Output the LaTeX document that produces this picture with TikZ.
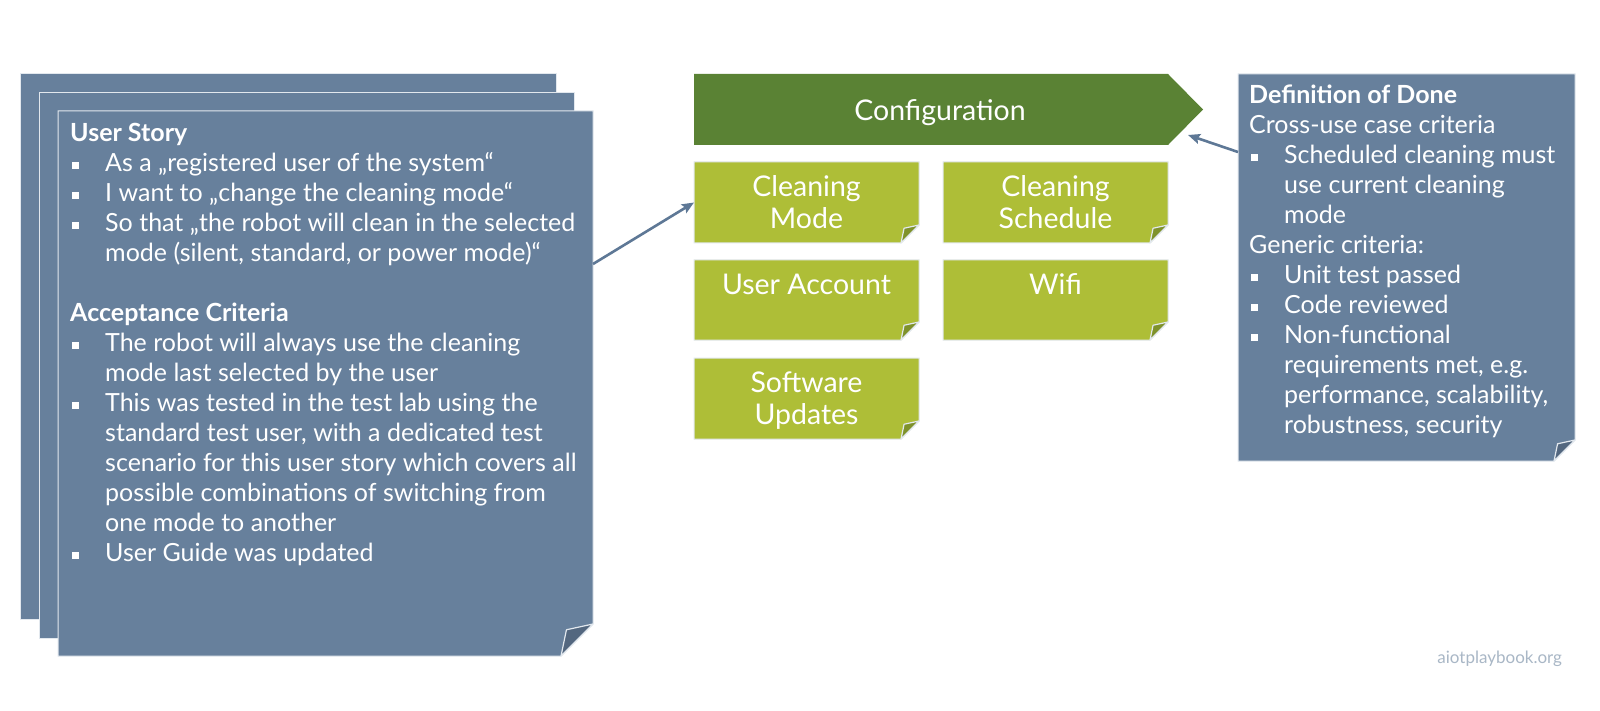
\documentclass[tikz,border=0pt]{standalone}
\usepackage{fontspec}
\setmainfont{Lato}
\usetikzlibrary{arrows.meta}
\definecolor{cardblue}{HTML}{67809C}
\definecolor{foldblue}{HTML}{53677F}
\definecolor{darkgreen}{HTML}{5A8234}
\definecolor{lightgreen}{HTML}{AEBE37}
\definecolor{foldgreen}{HTML}{7F922B}
\definecolor{arrowblue}{HTML}{5E7896}
\definecolor{edgecol}{HTML}{E2E8EE}
\definecolor{markcol}{HTML}{A9B7C6}
\newcommand\foldshape[7]{%
  \filldraw[fill=#1, draw=edgecol, line width=1pt] (#3,#4) -- (#5,#4) -- (#5,{#6-#7}) -- ({#5-#7},#6) -- (#3,#6) -- cycle;
  \filldraw[fill=#2, draw=edgecol, line width=1.2pt, line join=round] (#5,{#6-#7}) -- ({#5-#7},#6) -- ({#5-0.83*#7},{#6-0.82*#7}) -- cycle;
}
\newcommand\bul{\makebox[35pt][l]{\hspace{2pt}\rule[3pt]{6.5pt}{6.5pt}}}
\newcommand\ind{\makebox[35pt]{}}
\begin{document}
\begin{tikzpicture}[x=1pt,y=-1pt,
  area/.style={inner sep=0pt, outer sep=0pt},
  bodytext/.style={anchor=north west, inner sep=0pt, align=left, text=white, font=\fontsize{25}{30}\selectfont},
  greentext/.style={anchor=north, inner sep=0pt, align=center, text=white, font=\fontsize{28.5}{32.5}\selectfont},
  conn/.style={draw=arrowblue, line width=2.6pt, -{Stealth[length=12pt,width=10pt,inset=2pt]}}
  ]
\useasboundingbox (0,0) rectangle (1600,711);
\fill[white] (0,0) rectangle (1600,711);

% user story stack
\filldraw[fill=cardblue, draw=edgecol, line width=1pt] (20,74) rectangle (556,619);
\filldraw[fill=cardblue, draw=edgecol, line width=1pt] (39,93) rectangle (574,638);
\foldshape{cardblue}{foldblue}{58}{111}{593}{656}{32}
\node[area, minimum width=535pt, minimum height=545pt] (front) at (325.5,383.5) {};
\node[bodytext] (story) at (70,121.3) {\rule{0pt}{20pt}\textbf{User Story}\\
\bul As a „registered user of the system“\\
\bul I want to „change the cleaning mode“\\
\bul So that „the robot will clean in the selected\\
\ind mode (silent, standard, or power mode)“\\
\mbox{}\\
\textbf{Acceptance Criteria}\\
\bul The robot will always use the cleaning\\
\ind mode last selected by the user\\
\bul This was tested in the test lab using the\\
\ind standard test user, with a dedicated test\\
\ind scenario for this user story which covers all\\
\ind possible combinations of switching from\\
\ind one mode to another\\
\bul User Guide was updated};

% configuration banner
\fill[darkgreen] (694,74) -- (1168,74) -- (1203,109.5) -- (1168,145) -- (694,145) -- cycle;
\node[area, anchor=base, text=white, font=\fontsize{28.5}{32}\selectfont] (config) at (940,121) {Configuration};

% green boxes
\foldshape{lightgreen}{foldgreen}{694}{162}{919}{243}{18}
\node[area, minimum width=225pt, minimum height=81pt] (cmode) at (806.5,202.5) {};
\node[greentext] (cmodet) at (806.5,172) {\rule{0pt}{24pt}Cleaning\\Mode};
\foldshape{lightgreen}{foldgreen}{943}{162}{1168}{243}{18}
\node[greentext] (cschedt) at (1055.5,172) {\rule{0pt}{24pt}Cleaning\\Schedule};
\foldshape{lightgreen}{foldgreen}{694}{260}{919}{340}{18}
\node[greentext] (uacct) at (806.5,270) {\rule{0pt}{24pt}User Account};
\foldshape{lightgreen}{foldgreen}{943}{260}{1168}{340}{18}
\node[greentext] (wifi) at (1055.5,270) {\rule{0pt}{24pt}Wifi};
\foldshape{lightgreen}{foldgreen}{694}{358}{919}{439}{18}
\node[greentext] (swupd) at (806.5,368) {\rule{0pt}{24pt}Software\\Updates};

% definition of done
\foldshape{cardblue}{foldblue}{1238}{74}{1575}{461}{21}
\node[area, minimum width=337pt, minimum height=387pt] (dod) at (1406.5,267.5) {};
\node[bodytext] (dodt) at (1249,83.3) {\rule{0pt}{20pt}\textbf{Definition of Done}\\
Cross-use case criteria\\
\bul Scheduled cleaning must\\
\ind use current cleaning\\
\ind mode\\
Generic criteria:\\
\bul Unit test passed\\
\bul Code reviewed\\
\bul Non-functional\\
\ind requirements met, e.g.\\
\ind performance, scalability,\\
\ind robustness, security};

% connectors
\coordinate (usout) at (front.east |- 0,264);
\draw[conn] (usout) -- (cmode.west);
\coordinate (dodout) at (dod.west |- 0,152);
\coordinate (cfgin) at (1188,135);
\draw[conn] (dodout) -- (cfgin);

% watermark
\node[area, anchor=base east, text=markcol, font=\fontsize{17}{20}\selectfont] (mark) at (1562,663) {aiotplaybook.org};
\end{tikzpicture}
\end{document}
